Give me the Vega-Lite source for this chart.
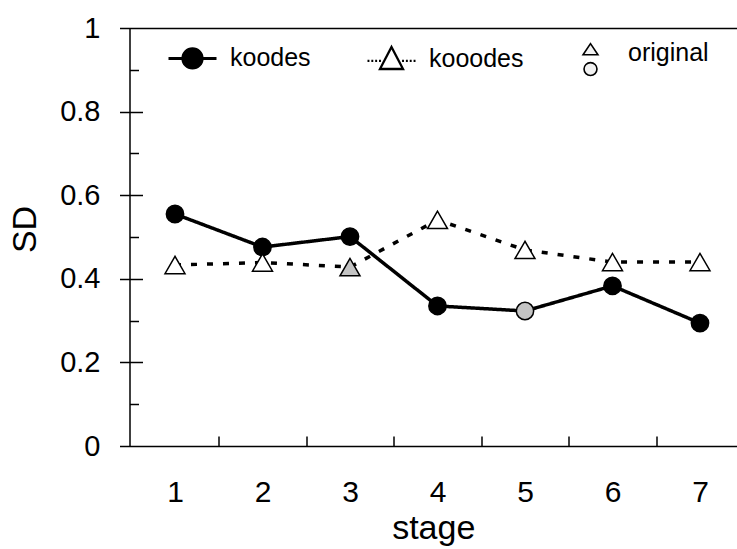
{
  "$schema": "https://vega.github.io/schema/vega-lite/v6.json",
  "width": 607.5,
  "height": 418,
  "autosize": "none",
  "padding": {"left": 129.5, "top": 28, "right": 0, "bottom": 103},
  "background": "white",
  "config": {
    "font": "Liberation Sans",
    "view": {"stroke": null},
    "axis": {
      "grid": false,
      "domainColor": "black",
      "domainWidth": 1.5,
      "tickColor": "black",
      "tickWidth": 1.5,
      "labelColor": "black",
      "titleColor": "black",
      "labelFont": "Liberation Sans",
      "titleFont": "Liberation Sans",
      "labelFontSize": 29,
      "titleFontSize": 34,
      "titleFontWeight": "normal"
    }
  },
  "data": {
    "values": [
      {"stage": 1, "series": "koodes", "SD": 0.555, "original": false, "marker": "koodes"},
      {"stage": 2, "series": "koodes", "SD": 0.476, "original": false, "marker": "koodes"},
      {"stage": 3, "series": "koodes", "SD": 0.501, "original": false, "marker": "koodes"},
      {"stage": 4, "series": "koodes", "SD": 0.335, "original": false, "marker": "koodes"},
      {"stage": 5, "series": "koodes", "SD": 0.323, "original": true, "marker": "original"},
      {"stage": 6, "series": "koodes", "SD": 0.383, "original": false, "marker": "koodes"},
      {"stage": 7, "series": "koodes", "SD": 0.294, "original": false, "marker": "koodes"},
      {"stage": 1, "series": "kooodes", "SD": 0.433, "original": false, "marker": "kooodes"},
      {"stage": 2, "series": "kooodes", "SD": 0.439, "original": false, "marker": "kooodes"},
      {"stage": 3, "series": "kooodes", "SD": 0.428, "original": true, "marker": "original"},
      {"stage": 4, "series": "kooodes", "SD": 0.541, "original": false, "marker": "kooodes"},
      {"stage": 5, "series": "kooodes", "SD": 0.469, "original": false, "marker": "kooodes"},
      {"stage": 6, "series": "kooodes", "SD": 0.44, "original": false, "marker": "kooodes"},
      {"stage": 7, "series": "kooodes", "SD": 0.44, "original": false, "marker": "kooodes"}
    ]
  },
  "layer": [
    {
      "mark": {"type": "line", "stroke": "black", "strokeWidth": 3.5},
      "encoding": {
        "x": {
          "field": "stage", "type": "quantitative",
          "scale": {"domain": [0.48, 7.423], "nice": false, "zero": false},
          "axis": {
            "title": "stage", "values": [1, 2, 3, 4, 5, 6, 7], "format": "d",
            "ticks": false, "labelPadding": 31, "labelFontSize": 30,
            "titleY": 92, "titleBaseline": "alphabetic"
          }
        },
        "y": {
          "field": "SD", "type": "quantitative",
          "scale": {"domain": [0, 1], "nice": false},
          "axis": {
            "title": "SD", "values": [0, 0.2, 0.4, 0.6, 0.8, 1], "format": ".1~f",
            "tickSize": 10, "labelPadding": 19.5,
            "titleX": -104.5, "titleY": 201, "titleAngle": -90,
            "titleBaseline": "middle", "titleAlign": "center"
          }
        },
        "strokeDash": {
          "field": "series", "type": "nominal",
          "scale": {"domain": ["koodes", "kooodes"], "range": [[1, 0], [6, 10]]},
          "legend": null
        }
      }
    },
    {
      "mark": {"type": "point", "filled": true, "stroke": "black", "strokeWidth": 1.5, "opacity": 1},
      "encoding": {
        "x": {
          "field": "stage", "type": "quantitative",
          "scale": {"domain": [0.48, 7.423], "nice": false, "zero": false},
          "axis": {"orient": "bottom", "values": [1.5, 2.5, 3.5, 4.5, 5.5, 6.5], "tickSize": -10, "labels": false, "domain": false, "title": null}
        },
        "y": {
          "field": "SD", "type": "quantitative",
          "scale": {"domain": [0, 1], "nice": false},
          "axis": {"orient": "left", "values": [0.2, 0.4, 0.6, 0.8], "tickSize": -13, "labels": false, "domain": false, "title": null}
        },
        "shape": {"condition": {"test": "datum.series === 'koodes'", "value": "circle"}, "value": "triangle-up"},
        "size": {"condition": {"test": "datum.series === 'koodes'", "value": 300}, "value": 400},
        "fill": {
          "condition": [
            {"test": "datum.original", "value": "#c4c4c4"},
            {"test": "datum.series === 'koodes'", "value": "black"}
          ],
          "value": "white"
        }
      }
    },
    {
      "mark": {"type": "point", "filled": true, "stroke": "black", "opacity": 0},
      "encoding": {
        "x": {
          "field": "stage", "type": "quantitative",
          "scale": {"domain": [0.48, 7.423], "nice": false, "zero": false},
          "axis": {"orient": "top", "labels": false, "ticks": false, "title": null, "domain": true}
        },
        "y": {
          "field": "SD", "type": "quantitative",
          "scale": {"domain": [0, 1], "nice": false},
          "axis": {"orient": "left", "values": [0.1, 0.3, 0.5, 0.7, 0.9], "tickSize": -9, "labels": false, "domain": false, "title": null}
        },
        "shape": {
          "field": "marker", "type": "nominal",
          "scale": {
            "domain": ["koodes", "kooodes", "original"],
            "range": [
              "M-1,0L-0.4,0M0.4,0L1,0M-0.4,0A0.4,0.4,0,1,1,0.4,0A0.4,0.4,0,1,1,-0.4,0Z",
              "M0,-0.5L0.48,0.42L-0.48,0.42ZM-1,0.08L-0.92,0.08M-0.84,0.08L-0.76,0.08M-0.68,0.08L-0.6,0.08M-0.52,0.08L-0.44,0.08M0.44,0.08L0.52,0.08M0.6,0.08L0.68,0.08M0.76,0.08L0.84,0.08M0.92,0.08L1,0.08",
              "M0,-0.4L0.31,0.06L-0.31,0.06ZM-0.27,0.66A0.27,0.27,0,1,1,0.27,0.66A0.27,0.27,0,1,1,-0.27,0.66Z"
            ]
          },
          "legend": {
            "title": null, "orient": "none", "legendX": 37.5, "legendY": 0,
            "direction": "horizontal", "columns": 3, "gridAlign": "all", "columnPadding": 37,
            "symbolSize": 2304, "labelFontSize": 25, "labelOffset": 12, "labelColor": "black",
            "padding": 0, "rowPadding": 0, "symbolOpacity": 1, "symbolStrokeColor": "black",
            "encode": {"symbols": {"update": {"opacity": {"value": 1}}}}
          }
        },
        "fill": {
          "field": "marker", "type": "nominal",
          "scale": {"domain": ["koodes", "kooodes", "original"], "range": ["black", "white", "#f2f2f2"]}
        },
        "stroke": {
          "field": "marker", "type": "nominal",
          "scale": {"domain": ["koodes", "kooodes", "original"], "range": ["black", "black", "black"]}
        },
        "strokeWidth": {
          "field": "marker", "type": "nominal",
          "scale": {"domain": ["koodes", "kooodes", "original"], "range": [3, 1.6, 1.2]}
        }
      }
    }
  ],
  "resolve": {"axis": {"x": "independent", "y": "independent"}}
}
